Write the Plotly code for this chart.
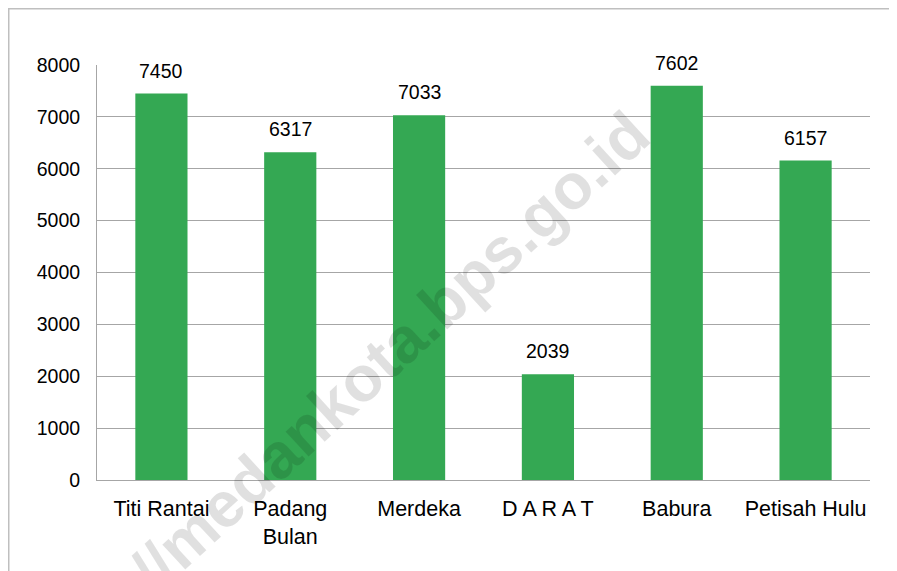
import plotly.graph_objects as go

categories = ["Titi Rantai", "Padang<br>Bulan", "Merdeka", "D A R A T", "Babura", "Petisah Hulu"]
values = [7450, 6317, 7033, 2039, 7602, 6157]
y_ticks = [0, 1000, 2000, 3000, 4000, 5000, 6000, 7000, 8000]

# the page body has an 8px margin, so the figure is drawn 8px in from the top-left
OFF = 8
W, H = 897 - OFF, 571 - OFF
L, R, T, B = 97 - OFF, 27, 65 - OFF, 91
pw, ph = W - L - R, H - T - B

def px(x):  # page pixel -> paper
    return (x - OFF - L) / pw

def py(y):
    return (H - B - (y - OFF)) / ph

fig = go.Figure(go.Bar(
    x=categories, y=values, marker_color="#34A853", marker_line_width=0,
    width=0.405, cliponaxis=False,
))

for c, v in zip(categories, values):
    fig.add_annotation(x=c, y=v, text=str(v), showarrow=False, yanchor="middle",
                       yshift=23, font=dict(family="Liberation Sans, Arial", size=19.5, color="#000000"))

fig.update_layout(
    width=W, height=H, margin=dict(l=L, r=R, t=T, b=B),
    plot_bgcolor="white", paper_bgcolor="white", showlegend=False,
    font=dict(family="Liberation Sans, Arial", size=20, color="#000000"),
)
fig.update_yaxes(range=[0, 8000], tickvals=y_ticks, showgrid=True, gridcolor="#a6a6a6",
                 gridwidth=1, showline=True, linecolor="#a6a6a6", linewidth=1,
                 zeroline=False, ticks="", ticklabelstandoff=12,
                 tickfont=dict(size=19.5))
fig.update_xaxes(showline=True, linecolor="#a6a6a6", linewidth=1, ticks="",
                 tickfont=dict(size=21.5), ticklabelstandoff=9)

# outer border
fig.add_shape(type="rect", xref="paper", yref="paper",
              x0=px(OFF + 0.75), x1=px(893), y0=py(H + OFF + 10), y1=py(OFF + 0.75),
              line=dict(color="#bfbfbf", width=1.5), fillcolor="rgba(0,0,0,0)", layer="below")

# watermark
fig.add_annotation(text="<b>//medankota.bps.go.id</b>", xref="paper", yref="paper",
                   x=px(390), y=py(352), xanchor="center", yanchor="middle",
                   showarrow=False, textangle=-42.5,
                   font=dict(family="Liberation Sans, Arial", size=64, color="rgba(0,0,0,0.12)"))

fig.write_html("out.html", config={"displayModeBar": False})
